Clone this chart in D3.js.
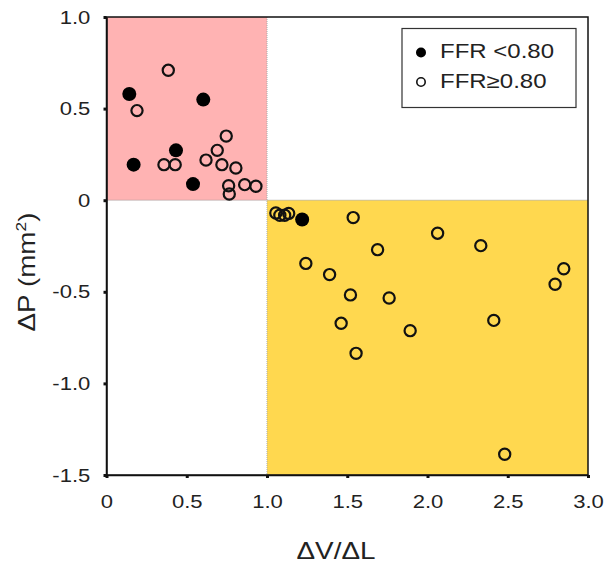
<!DOCTYPE html>
<html>
<head>
<meta charset="utf-8">
<script src="https://cdn.jsdelivr.net/npm/d3@7"></script>
<style>
  body { margin: 0; background: #fff; }
  text { font-family: "Liberation Sans", Arial, sans-serif; fill: #222; }
</style>
</head>
<body>
<svg id="chart"></svg>
<script>
// FFR < 0.80 (filled)
const lowX = [0.142, 0.603, 0.433, 0.169, 0.539, 1.219];
const lowY = [0.580, 0.549, 0.272, 0.194, 0.088, -0.105];

// FFR >= 0.80 (open)
const highX = [0.385, 0.190, 0.746, 0.690, 0.620, 0.358, 0.428, 0.719, 0.806, 0.761, 0.861, 0.931, 0.765,
  1.055, 1.080, 1.110, 1.135,
  1.537, 2.063, 1.689, 1.242, 1.390, 1.520, 1.761, 1.462, 1.892, 1.555,
  2.332, 2.849, 2.795, 2.413, 2.481];
const highY = [0.709, 0.489, 0.350, 0.272, 0.219, 0.194, 0.194, 0.194, 0.176, 0.079, 0.085, 0.076, 0.034,
  -0.070, -0.082, -0.082, -0.072,
  -0.095, -0.180, -0.270, -0.345, -0.406, -0.517, -0.534, -0.672, -0.712, -0.836,
  -0.248, -0.374, -0.459, -0.656, -1.387];

const xTicks = [0, 0.5, 1.0, 1.5, 2.0, 2.5, 3.0];
const xTickLabels = ["0", "0.5", "1.0", "1.5", "2.0", "2.5", "3.0"];
const yTicks = [1.0, 0.5, 0, -0.5, -1.0, -1.5];
const yTickLabels = ["1.0", "0.5", "0", "-0.5", "-1.0", "-1.5"];

const legendLabels = ["FFR <0.80", "FFR\u22650.80"];

const width = 605, height = 567;
const margin = { top: 17, right: 17, bottom: 92, left: 106.5 };
const innerW = width - margin.left - margin.right;
const innerH = height - margin.top - margin.bottom;
const wide = 1.16; // text in the original is drawn wider than Arial

const svg = d3.select("#chart").attr("width", width).attr("height", height);
const g = svg.append("g").attr("transform", `translate(${margin.left},${margin.top})`);

const x = d3.scaleLinear().domain([0, 3]).range([0, innerW]);
const y = d3.scaleLinear().domain([-1.5, 1]).range([innerH, 0]);

// quadrant shading
g.append("rect")
  .attr("x", x(0)).attr("y", y(1))
  .attr("width", x(1) - x(0)).attr("height", y(0) - y(1))
  .attr("fill", "#ffb3b3");
g.append("rect")
  .attr("x", x(1)).attr("y", y(0))
  .attr("width", x(3) - x(1)).attr("height", y(-1.5) - y(0))
  .attr("fill", "#ffd84f");

// dotted divider lines
g.append("line")
  .attr("x1", x(0)).attr("x2", x(3)).attr("y1", y(0)).attr("y2", y(0))
  .attr("stroke", "#999").attr("stroke-width", 1).attr("stroke-dasharray", "1,1");
g.append("line")
  .attr("x1", x(1)).attr("x2", x(1)).attr("y1", y(1)).attr("y2", y(-1.5))
  .attr("stroke", "#aaa").attr("stroke-width", 1).attr("stroke-dasharray", "1,1");

// frame
g.append("rect")
  .attr("x", 0).attr("y", 0).attr("width", innerW).attr("height", innerH)
  .attr("fill", "none").attr("stroke", "#111").attr("stroke-width", 1.5);

// axes
const xAxis = d3.axisBottom(x).tickValues(xTicks)
  .tickFormat((d, i) => xTickLabels[i]).tickSizeInner(3).tickSizeOuter(0).tickPadding(17);
const yAxis = d3.axisLeft(y).tickValues(yTicks)
  .tickFormat((d, i) => yTickLabels[i]).tickSizeInner(3).tickSizeOuter(0).tickPadding(11);

const xg = g.append("g").attr("transform", `translate(0,${innerH})`).call(xAxis);
const yg = g.append("g").call(yAxis);
[xg, yg].forEach(a => {
  a.select(".domain").attr("stroke", "#111").attr("stroke-width", 1.5);
  a.selectAll(".tick line").attr("stroke", "#111").attr("stroke-width", 3);
  a.selectAll(".tick text").style("font-size", "19px").attr("fill", "#222")
    .attr("transform", `scale(${wide},1)`);
});

// points
const lowData = lowX.map((v, i) => ({ x: v, y: lowY[i] }));
const highData = highX.map((v, i) => ({ x: v, y: highY[i] }));

g.selectAll(".high").data(highData).join("circle")
  .attr("class", "high")
  .attr("cx", d => x(d.x)).attr("cy", d => y(d.y)).attr("r", 5.6)
  .attr("fill", "none").attr("stroke", "#111").attr("stroke-width", 2.2);

g.selectAll(".low").data(lowData).join("circle")
  .attr("class", "low")
  .attr("cx", d => x(d.x)).attr("cy", d => y(d.y)).attr("r", 7)
  .attr("fill", "#000");

// legend
const legend = svg.append("g").attr("transform", "translate(402,28.5)");
legend.append("rect").attr("width", 174).attr("height", 79)
  .attr("fill", "#fff").attr("stroke", "#333").attr("stroke-width", 1.2);
legendLabels.forEach((lab, i) => {
  const row = legend.append("g").attr("transform", `translate(19,${24 + i * 29.5})`);
  row.append("circle").attr("r", i === 0 ? 5 : 4.2)
    .attr("fill", i === 0 ? "#000" : "none")
    .attr("stroke", "#111").attr("stroke-width", i === 0 ? 0 : 1.6);
  row.append("text").attr("transform", `translate(19,5.5) scale(1.2,1)`)
    .style("font-size", "20px").text(lab);
});

// axis titles
svg.append("text")
  .attr("transform", `translate(336,559) scale(${wide},1)`)
  .attr("text-anchor", "middle").style("font-size", "24px")
  .text("\u0394V/\u0394L");

const yt = svg.append("text")
  .attr("transform", `translate(34.5,272) rotate(-90) scale(${wide},1)`)
  .attr("text-anchor", "middle").style("font-size", "24px");
yt.append("tspan").text("\u0394P (mm");
yt.append("tspan").attr("dy", -9).style("font-size", "15px").text("2");
yt.append("tspan").attr("dy", 9).text(")");
</script>
</body>
</html>
